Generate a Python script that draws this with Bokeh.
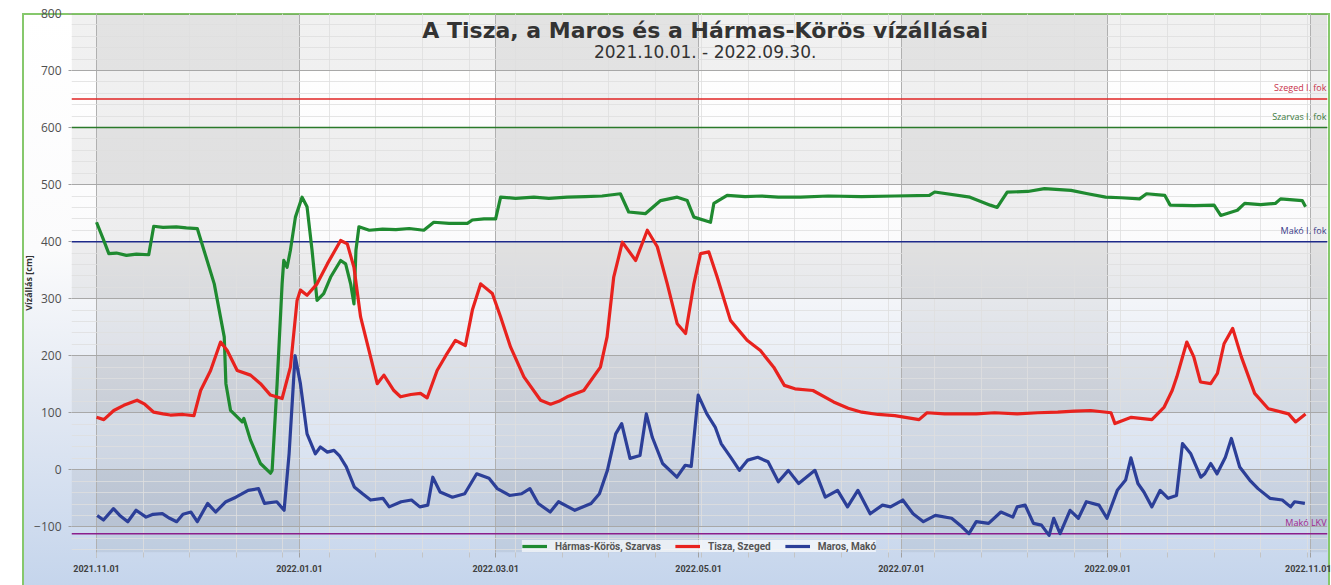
import numpy as np
import pandas as pd
from bokeh.plotting import figure
from bokeh.models import (Range1d, FixedTicker, SingleIntervalTicker, DatetimeTickFormatter,
                          Label, Legend, LegendItem, ColumnDataSource)
from bokeh.core.properties import value
from bokeh.embed import file_html
from bokeh.resources import INLINE

# ---------------- data (days since 2021-11-01, water level in cm) ----------------
START = pd.Timestamp("2021-11-01")

green_days = [0, 2, 3.7, 6, 9, 12, 15.7, 17.2, 20, 24, 27, 30.3, 32.3, 35.4, 38.4, 38.9, 40.3, 43.8,
              44.3, 46.3, 49.3, 52.3, 52.8, 54.3, 55.8, 56.3, 57.3, 58.3, 59.8, 61.8, 63.3, 64.8,
              66.3, 68.3, 70.4, 73.4, 74.9, 76.4, 77.4, 78.0, 78.9, 82, 86, 90, 94, 98.4, 101.4,
              106, 111.5, 113, 116.5, 120, 121.5, 126, 131.5, 136, 141.5, 147, 152, 157.5, 160,
              165, 169.6, 174.6, 177.6, 179.6, 184.6, 185.6, 189.6, 195, 200, 205, 211.7, 220,
              230, 240, 250.4, 252, 262.6, 268.7, 270.8, 273.8, 280, 285, 293, 298, 303.4, 308,
              313.6, 315.7, 321.2, 322.8, 330, 336, 338, 343, 345.2, 350, 354.4, 356, 362.5, 363.5]
green_vals = [434, 405, 379, 380, 376, 378, 377, 427, 425, 426, 424, 423, 385, 326, 233, 151, 104, 84,
              90, 52, 11, -6, -1, 151, 326, 367, 355, 385, 443, 478, 461, 385,
              297, 309, 338, 367, 361, 326, 291, 385, 426, 420, 422, 421, 423, 420, 434,
              432, 432, 438, 440, 440, 478, 476, 478, 476, 478, 479, 480, 484, 452,
              449, 472, 478, 472, 443, 434, 467, 481, 479, 480, 478, 478, 480,
              479, 480, 481, 487, 478, 464, 460, 487, 488, 493, 490, 484, 478, 477,
              475, 484, 481, 464, 463, 464, 446, 455, 467, 465, 467, 475, 472, 461]

red_days = [0, 2.2, 5.2, 8.2, 12.2, 14.5, 17.2, 20, 22.2, 26, 29.3, 31.3, 34.3, 37.3, 39.3, 42.3,
            46.3, 49.3, 52.3, 55.8, 58.3, 60.3, 61.3, 63.3, 66.3, 69.4, 73.4, 75.4, 77.4, 79.4,
            82.4, 84.4, 86.4, 89.4, 91.4, 94.5, 97.4, 99.4, 102.4, 105, 107.9, 110.9, 113, 115.5,
            119, 121.5, 124.5, 128.5, 133.5, 136.5, 139, 141.5, 146.5, 151.5, 153.5, 155.5, 158.1,
            162.1, 165.6, 168.6, 171.6, 174.6, 177.1, 179.6, 181.6, 184.1, 186.6, 190.6, 195.6,
            199.6, 203.6, 206.8, 210, 215.4, 221.6, 226, 230.1, 235, 240, 247.3, 249.7, 255,
            264.5, 270, 276.8, 283, 289, 294, 298.9, 305, 306.2, 311.1, 317.3, 321, 323.4, 324.8,
            327.8, 329.9, 331.9, 335, 337, 339, 341.6, 344.2, 348.2, 352.3, 358.4, 360.5, 363.5]
red_vals = [92, 88, 104, 113, 122, 115, 101, 98, 96, 97, 95, 139, 174, 224, 209, 174,
            166, 151, 131, 125, 180, 297, 315, 306, 326, 361, 402, 396, 355, 268,
            198, 151, 166, 139, 128, 132, 134, 126, 174, 200, 227, 218, 280, 326,
            309, 268, 215, 163, 122, 115, 120, 128, 139, 180, 233, 338, 399,
            367, 420, 391, 326, 256, 239, 326, 379, 382, 338, 262, 227,
            209, 180, 148, 142, 139, 119, 108, 101, 97, 95, 88, 100, 98,
            98, 100, 98, 100, 101, 103, 104, 100, 81, 92, 88, 110, 139, 163,
            224, 198, 154, 151, 169, 221, 248, 198, 134, 107, 98, 84, 98]

blue_days = [0.2, 2.1, 5.1, 7, 9.4, 11.9, 14.9, 17, 19.8, 22, 24.1, 26, 28.4, 30.3, 33.4, 35.8,
             38.9, 41.9, 45.6, 48.7, 50.5, 54.2, 56.4, 57.9, 59.7, 61.3, 63.3, 65.8, 67.3, 69.4,
             71.4, 73, 75.1, 77.5, 80, 82.4, 86.1, 88, 91.6, 94.7, 97.2, 99.6, 101.1, 103.3, 107,
             110.7, 114.3, 118, 120.5, 124.2, 127.8, 130.3, 132.8, 136.4, 138.9, 143.8, 148.7,
             151.2, 153.6, 156.1, 157.9, 160.4, 163.4, 165.3, 167.1, 170.2, 174.5, 177, 178.8,
             180.9, 183.5, 186, 187.8, 190.9, 193.3, 195.8, 198.8, 201.9, 205, 208, 211.1, 216,
             219.1, 222.8, 225.8, 228.9, 232.6, 236.3, 238.7, 242.4, 245.5, 248.6, 252.2, 257.1,
             260.2, 262.3, 264.5, 268.2, 271.9, 275.5, 276.8, 279.2, 281.7, 284.1, 286.4, 287.8,
             289.7, 292.7, 295.2, 297.6, 301.4, 303.8, 306.9, 309.4, 311, 313.1, 314.9, 317.3,
             319.8, 322.2, 324.7, 326.5, 329, 332, 333.2, 335, 336.9, 339.4, 341.2, 343.7, 346.7,
             349.2, 352.8, 356.5, 359, 360.2, 363.3]
blue_vals = [-80, -88, -68, -80, -91, -71, -83, -78, -77, -85, -91, -78, -74, -91, -59, -74,
             -56, -48, -36, -33, -59, -56, -71, 28, 200, 151, 63, 28, 40, 31,
             34, 25, 5, -30, -42, -53, -50, -65, -56, -53, -65, -62, -13, -39, -48,
             -42, -7, -15, -33, -45, -42, -33, -59, -74, -56, -71, -59,
             -42, -1, 63, 81, 20, 25, 98, 57, 11, -13, 8, 6,
             131, 98, 75, 46, 20, -1, 17, 22, 14, -21, -1, -24, -1,
             -48, -36, -65, -36, -77, -62, -65, -53, -77, -91, -80, -85,
             -100, -112, -91, -94, -74, -83, -65, -62, -94, -97, -115, -85,
             -112, -71, -85, -56, -62, -85, -36, -18, 21, -24, -39, -65,
             -36, -50, -45, 46, 28, -13, -7, 11, -7, 22, 55, 5, -18,
             -33, -50, -53, -65, -56, -59]

series_names = ["Hármas-Körös, Szarvas", "Tisza, Szeged", "Maros, Makó"]
series_colors = ["#1f8a30", "#e8221e", "#2c3f98"]

thr_names = ["Szeged I. fok", "Szarvas I. fok", "Makó I. fok", "Makó LKV"]
thr_vals = [650, 600, 400, -112]
thr_line_colors = ["#e02424", "#2a7a2a", "#1e2a8a", "#8b1f8b"]
thr_text_colors = ["#c8324a", "#3c7a3c", "#3a3a88", "#a0288f"]

x_tick_labels = ["2021.11.01", "2022.01.01", "2022.03.01", "2022.05.01",
                 "2022.07.01", "2022.09.01", "2022.11.01"]
y_band_starts = [-100, 100, 300, 500, 700]

title_text = "A Tisza, a Maros és a Hármas-Körös vízállásai"
subtitle_text = "2021.10.01. - 2022.09.30."
y_label = "Vízállás [cm]"

# ---------------- helpers ----------------
def to_dt(days):
    return START + pd.to_timedelta(np.asarray(days, dtype=float), unit="D")

def ms(ts):
    return pd.Timestamp(ts).value / 1e6

x_start = START - pd.Timedelta(days=7.52)
x_end = START + pd.Timedelta(days=370.1)
y_start, y_end = -145, 800

major_ticks = pd.to_datetime(x_tick_labels, format="%Y.%m.%d")
minor_ticks = pd.date_range("2021-10-18", "2022-11-07", freq="14D")

bg = ("linear-gradient(#86c86c,#86c86c) 22px 13px / 2px calc(100% - 13px) no-repeat, "
      "linear-gradient(#86c86c,#86c86c) 22px 13px / 1308px 2px no-repeat, "
      "linear-gradient(#86c86c,#86c86c) 1328px 13px / 2px calc(100% - 13px) no-repeat, "
      "linear-gradient(to bottom, #ffffff 0px, #fbfbfc 235px, #e3e9f3 385px, #c5d5ec 570px) "
      "24px 15px / 1304px 570px no-repeat, #ffffff")

p = figure(width=1331, height=585, output_backend="svg", toolbar_location=None,
           x_axis_type="datetime",
           x_range=Range1d(start=x_start, end=x_end),
           y_range=Range1d(start=y_start, end=y_end),
           min_border_left=71, min_border_right=4, min_border_top=13, min_border_bottom=33)
p.border_fill_color = None
p.background_fill_color = None
p.outline_line_color = None
p.styles = {"background": bg}

# ---- checkerboard bands ----
bounds = [x_start] + list(major_ticks) + [x_end]
col_l, col_r = [], []
for i in range(1, len(bounds) - 1, 2):
    col_l.append(bounds[i])
    col_r.append(bounds[i + 1])
p.quad(left=col_l, right=col_r, bottom=y_start, top=y_end, fill_color="black",
       fill_alpha=0.055, line_color=None, level="image")
p.quad(left=x_start, right=x_end, bottom=y_band_starts, top=[b + 100 for b in y_band_starts],
       fill_color="black", fill_alpha=0.055, line_color=None, level="image")

# ---- axes / grid ----
p.xaxis.ticker = FixedTicker(ticks=[ms(t) for t in major_ticks],
                             minor_ticks=[ms(t) for t in minor_ticks])
p.xaxis.formatter = DatetimeTickFormatter(days="%Y.%m.%d", months="%Y.%m.%d",
                                          years="%Y.%m.%d")
p.yaxis.ticker = SingleIntervalTicker(interval=100, num_minor_ticks=5)

for ax in (p.xaxis[0], p.yaxis[0]):
    ax.axis_line_color = None
    ax.major_tick_in = 0
    ax.minor_tick_in = 0
    ax.major_tick_line_color = "#a0a0a0"
    ax.minor_tick_line_color = "#c4c4c4"

p.xaxis.major_tick_out = 5
p.xaxis.minor_tick_out = 5
p.xaxis.major_label_standoff = 7
p.xaxis.major_label_text_font = "Roboto"
p.xaxis.major_label_text_font_style = "bold"
p.xaxis.major_label_text_font_size = "9px"
p.xaxis.major_label_text_color = "#404040"

p.yaxis.major_tick_out = 3
p.yaxis.minor_tick_out = 0
p.yaxis.major_label_standoff = 7
p.yaxis.major_label_text_font = "Open Sans"
p.yaxis.major_label_text_font_size = "12px"
p.yaxis.major_label_text_color = "#505050"
p.yaxis.axis_label = y_label
p.yaxis.axis_label_text_font = "Open Sans"
p.yaxis.axis_label_text_font_style = "bold"
p.yaxis.axis_label_text_font_size = "9px"
p.yaxis.axis_label_text_color = "#333333"
p.yaxis.axis_label_standoff = -4

p.ygrid.grid_line_color = "#a8a8a8"
p.ygrid.minor_grid_line_color = "#dedede"
p.ygrid.minor_grid_line_alpha = 0.8
p.xgrid.grid_line_color = "#b0b0b0"
p.xgrid.minor_grid_line_color = "#dedede"
p.xgrid.minor_grid_line_alpha = 0.8

# ---- threshold lines + labels ----
thr_src = ColumnDataSource(dict(y=thr_vals, name=thr_names, lc=thr_line_colors,
                                tc=thr_text_colors,
                                x0=[x_start] * len(thr_vals), x1=[x_end] * len(thr_vals)))
p.segment(x0="x0", x1="x1", y0="y", y1="y", line_color="lc", line_width=1.5, source=thr_src)
p.text(x="x1", y="y", text="name", text_color="tc", text_align="right",
       text_baseline="bottom", x_offset=-1, y_offset=-5, text_font=value("Open Sans"),
       text_font_size="9px", source=thr_src)

# ---- series ----
renderers = []
for days, vals, col in ((green_days, green_vals, series_colors[0]),
                        (red_days, red_vals, series_colors[1]),
                        (blue_days, blue_vals, series_colors[2])):
    r = p.line(to_dt(days), vals, line_color=col, line_width=3.2, line_join="round")
    renderers.append(r)

legend = Legend(items=[LegendItem(label=n, renderers=[r]) for n, r in zip(series_names, renderers)],
                orientation="horizontal", location="bottom_center", margin=0,
                padding=5, spacing=14, label_standoff=8, glyph_width=25, glyph_height=12,
                label_height=12, label_text_font="Roboto", label_text_font_style="bold",
                label_text_font_size="10px", label_text_color="#555555",
                background_fill_color="white", background_fill_alpha=0.65,
                border_line_color=None)
p.add_layout(legend)

# ---- titles ----
title_x = ms(START + pd.Timedelta(days=183))
p.add_layout(Label(x=title_x, y=770, text=title_text, text_align="center",
                   text_baseline="middle", text_font="DejaVu Sans",
                   text_font_style="bold", text_font_size="22px", text_color="#333333"))
p.add_layout(Label(x=title_x, y=732, text=subtitle_text, text_align="center",
                   text_baseline="middle", text_font="DejaVu Sans",
                   text_font_size="17px", text_color="#333333"))

open("out.html", "w").write(file_html(p, INLINE))
